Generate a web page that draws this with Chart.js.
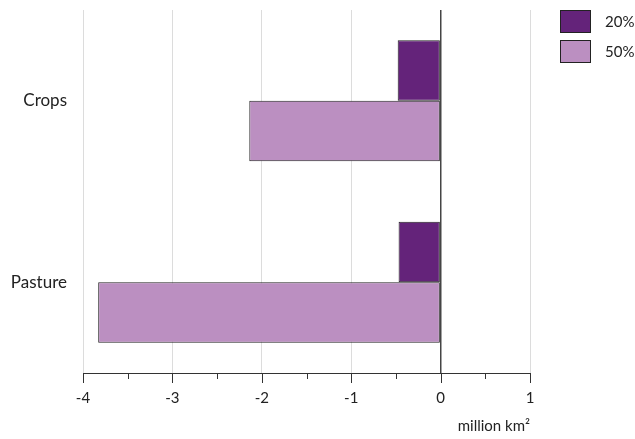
<!DOCTYPE html>
<html>
<head>
<meta charset="utf-8">
<script src="https://cdn.jsdelivr.net/npm/chart.js@4/dist/chart.umd.min.js"></script>
<style>
  html, body { margin: 0; padding: 0; background: #fff; }
  #wrap { width: 635px; height: 439px; position: relative; }
</style>
</head>
<body>
<div id="wrap"><canvas id="chart"></canvas></div>
<script>
// land change by category, million km2
var categories = ["Crops", "Pasture"];
var seriesNames = ["20%", "50%"];
var values20 = [-0.48, -0.47];
var values50 = [-2.14, -3.83];
var tickValues = [-4, -3, -2, -1, 0, 1];
var axisTitle = "million km\u00B2";

var colors = ["#64237a", "#bb8fc1"];
var font = "Lato, 'Open Sans', sans-serif";

// axis line, major + minor tick marks, and the legend box at top right
var extras = {
  id: 'extras',
  afterDraw: function (chart) {
    var ctx = chart.ctx;
    var x = chart.scales.x;
    var area = chart.chartArea;
    ctx.save();
    ctx.strokeStyle = '#333';
    ctx.lineWidth = 1;
    ctx.beginPath();
    ctx.moveTo(area.left, area.bottom + 0.5);
    ctx.lineTo(area.right, area.bottom + 0.5);
    for (var v = x.min; v <= x.max + 0.001; v += 0.5) {
      var px = Math.round(x.getPixelForValue(v)) + 0.5;
      var len = Number.isInteger(v) ? 10 : 6;
      ctx.moveTo(px, area.bottom);
      ctx.lineTo(px, area.bottom + len);
    }
    ctx.stroke();

    // legend
    chart.data.datasets.forEach(function (ds, i) {
      var top = 10 + i * 30;
      ctx.fillStyle = ds.backgroundColor;
      ctx.fillRect(560, top, 31, 23);
      ctx.strokeStyle = '#222';
      ctx.strokeRect(560.5, top + 0.5, 30, 22);
      ctx.fillStyle = '#222';
      ctx.font = '15px ' + font;
      ctx.textBaseline = 'middle';
      ctx.textAlign = 'left';
      ctx.fillText(ds.label, 605, top + 12);
    });
    ctx.restore();
  }
};

function noPad(scale) {
  scale.paddingTop = 0;
  scale.paddingBottom = 0;
  scale.paddingLeft = 0;
  scale.paddingRight = 0;
}

new Chart(document.getElementById('chart'), {
  type: 'bar',
  data: {
    labels: categories,
    datasets: [{
      label: seriesNames[0],
      data: values20,
      backgroundColor: colors[0],
      borderColor: '#222',
      borderWidth: 1,
      borderSkipped: false
    }, {
      label: seriesNames[1],
      data: values50,
      backgroundColor: colors[1],
      borderColor: '#222',
      borderWidth: 1,
      borderSkipped: false
    }]
  },
  plugins: [extras],
  options: {
    indexAxis: 'y',
    responsive: true,
    maintainAspectRatio: false,
    animation: false,
    layout: { padding: { top: 10, right: 105, left: 0, bottom: 0 } },
    datasets: {
      bar: { categoryPercentage: 0.667, barPercentage: 1 }
    },
    plugins: {
      legend: { display: false },
      tooltip: { enabled: false }
    },
    scales: {
      x: {
        min: -4,
        max: 1,
        afterBuildTicks: function (scale) {
          scale.ticks = tickValues.map(function (v) { return { value: v }; });
        },
        afterFit: function (scale) { scale.height = 66; noPad(scale); },
        border: { display: false },
        grid: {
          drawTicks: false,
          color: function (c) { return c.tick && c.tick.value === 0 ? '#444' : '#dcdcdc'; },
          lineWidth: function (c) { return c.tick && c.tick.value === 0 ? 1.5 : 1; }
        },
        ticks: {
          padding: 16,
          color: '#222',
          font: { family: font, size: 15 }
        },
        title: {
          display: true,
          text: axisTitle,
          align: 'end',
          color: '#222',
          font: { family: font, size: 15 },
          padding: { top: 4 }
        }
      },
      y: {
        afterFit: function (scale) { scale.width = 83; noPad(scale); },
        border: { display: false },
        grid: { display: false, drawTicks: false },
        ticks: {
          padding: 16,
          color: '#222',
          font: { family: font, size: 17 }
        }
      }
    }
  }
});
</script>
</body>
</html>
